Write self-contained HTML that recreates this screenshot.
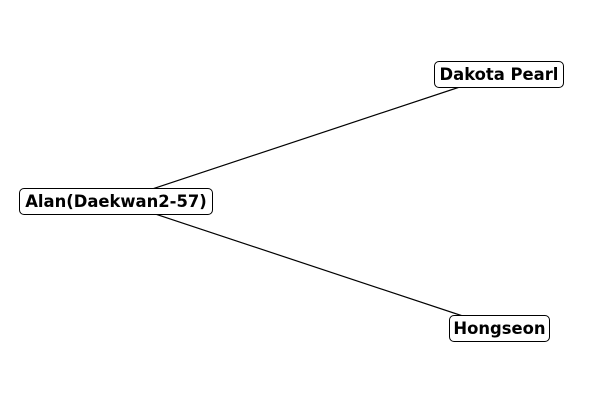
<!DOCTYPE html>
<html><head><style>
body{margin:0;width:600px;height:400px;background:#fff;overflow:hidden;font-family:"DejaVu Sans","Liberation Sans",sans-serif;}
.n{position:absolute;background:#fff;border:1px solid #000;border-radius:5px;font-weight:bold;font-size:16.4px;line-height:25px;text-align:center;box-sizing:border-box;height:27px;white-space:nowrap;}
</style></head><body>
<svg width="600" height="400" style="position:absolute;left:0;top:0">
<line x1="116" y1="201" x2="499" y2="74" stroke="#000" stroke-width="1.2"/>
<line x1="116" y1="201" x2="499" y2="328" stroke="#000" stroke-width="1.2"/>
</svg>
<div class="n" style="left:19px;top:188px;width:194px">Alan(Daekwan2-57)</div>
<div class="n" style="left:434px;top:61px;width:130px">Dakota Pearl</div>
<div class="n" style="left:449px;top:315px;width:101px">Hongseon</div>
</body></html>
